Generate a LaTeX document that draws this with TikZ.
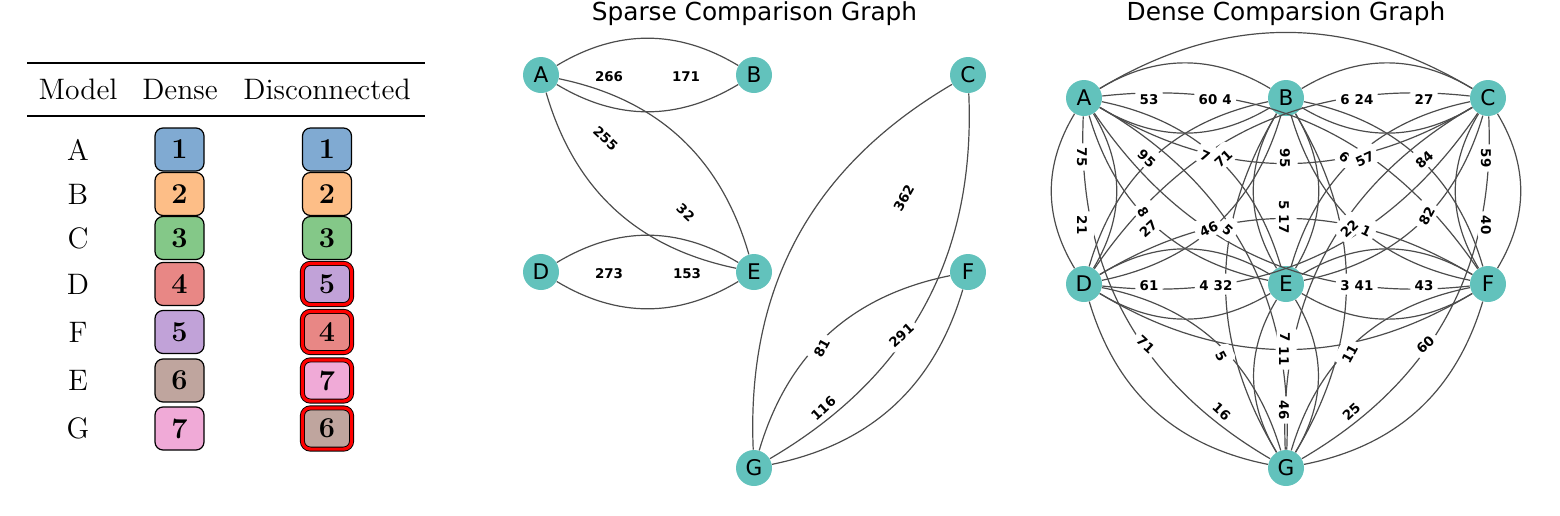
\documentclass[tikz,border=0pt]{standalone}
\usepackage{fontspec}
\newfontfamily\djv{DejaVu Sans}
\usetikzlibrary{calc}
\definecolor{tealn}{RGB}{98,194,188}
\definecolor{cone}{RGB}{128,170,210}
\definecolor{ctwo}{RGB}{253,190,135}
\definecolor{cthree}{RGB}{132,200,136}
\definecolor{cfour}{RGB}{232,135,133}
\definecolor{cfive}{RGB}{193,162,216}
\definecolor{csix}{RGB}{191,165,158}
\definecolor{cseven}{RGB}{240,170,215}
\begin{document}
\begin{tikzpicture}[x=0.5pt,y=-0.5pt,
  gnode/.style={circle,fill=tealn,minimum size=18pt,inner sep=0pt,font=\djv\fontsize{10.8}{12}\selectfont},
  lnk/.style={draw=black!70,line width=0.6pt},
  elab/.style={fill=white,inner xsep=2.2pt,inner ysep=1.3pt,text height=0.74em,text depth=0.05em,rounded corners=2pt,font=\djv\bfseries\fontsize{6.7}{7.5}\selectfont},
  ttl/.style={anchor=base,font=\djv\fontsize{12.4}{14}\selectfont},
  tbl/.style={font=\fontsize{14.8}{17}\selectfont},
  rk/.style={draw=black,line width=0.6pt,rounded corners=4pt,minimum width=24.5pt,minimum height=21.5pt,inner sep=0pt,font=\fontsize{14.4}{16}\selectfont\bfseries},
  rkr/.style={rk,double=red,double distance=1.6pt,line width=0.45pt,minimum width=24.6pt,minimum height=20.6pt},
  bl/.style={bend left=31}, br/.style={bend right=31}
]
\useasboundingbox (0,0) rectangle (1560,515);

% ---------------- table ----------------
\draw[line width=1pt] (27,63) -- (425,63);
\draw[line width=0.8pt] (27,116) -- (425,116);
\node[tbl,anchor=base] (hM) at (78,99) {Model};
\node[tbl,anchor=base] (hD) at (180,99) {Dense};
\node[tbl,anchor=base] (hC) at (327,99) {Disconnected};

\foreach \l/\y [count=\i] in {A/149.5,B/194,C/238,D/284,F/332,E/380.5,G/428.5}
  \node[tbl] (row\i) at (78,\y) {\l};

\node[rk,fill=cone]   (dn1) at (179.5,149.5) {1};
\node[rk,fill=ctwo]   (dn2) at (179.5,194) {2};
\node[rk,fill=cthree] (dn3) at (179.5,238) {3};
\node[rk,fill=cfour]  (dn4) at (179.5,284) {4};
\node[rk,fill=cfive]  (dn5) at (179.5,332) {5};
\node[rk,fill=csix]   (dn6) at (179.5,380.5) {6};
\node[rk,fill=cseven] (dn7) at (179.5,428.5) {7};

\node[rk,fill=cone]    (dc1) at (327,149.5) {1};
\node[rk,fill=ctwo]    (dc2) at (327,194) {2};
\node[rk,fill=cthree]  (dc3) at (327,238) {3};
\node[rkr,fill=cfive]  (dc4) at (327,284) {5};
\node[rkr,fill=cfour]  (dc5) at (327,332) {4};
\node[rkr,fill=cseven] (dc6) at (327,380.5) {7};
\node[rkr,fill=csix]   (dc7) at (327,428.5) {6};

% ---------------- sparse graph ----------------
\node[ttl] (st) at (754.5,20.5) {Sparse Comparison Graph};
\node[gnode] (sA) at (541,75) {A};
\node[gnode] (sB) at (754,75) {B};
\node[gnode] (sC) at (968,75) {C};
\node[gnode] (sD) at (541,272) {D};
\node[gnode] (sE) at (754,272) {E};
\node[gnode] (sF) at (968,272) {F};
\node[gnode] (sG) at (754,468) {G};
\foreach \u/\v in {A/B,A/E,D/E,C/G,F/G}{
  \draw[lnk] (s\u) to[bl] (s\v);
  \draw[lnk] (s\u) to[br] (s\v);
}
\node[elab] (sl1) at (609,75) {266};
\node[elab] (sl2) at (686,75) {171};
\node[elab,rotate=-42.8] (sl3) at (607,137) {255};
\node[elab,rotate=-42.8] (sl4) at (687,211) {32};
\node[elab] (sl5) at (609,272) {273};
\node[elab] (sl6) at (687,272) {153};
\node[elab,rotate=61.4] (sl7) at (902,197) {362};
\node[elab,rotate=61.4] (sl8) at (820,347) {81};
\node[elab,rotate=42.5] (sl9) at (900,334) {291};
\node[elab,rotate=42.5] (sl10) at (822,407) {116};

% ---------------- dense graph ----------------
\node[ttl] (dt) at (1286,20.5) {Dense Comparsion Graph};
\node[gnode] (dA) at (1084,98) {A};
\node[gnode] (dB) at (1286,98) {B};
\node[gnode] (dC) at (1488,98) {C};
\node[gnode] (dD) at (1084,284) {D};
\node[gnode] (dE) at (1286,284) {E};
\node[gnode] (dF) at (1488,284) {F};
\node[gnode] (dG) at (1286,468) {G};
\foreach \u/\v in {A/B,A/C,A/D,A/E,A/F,A/G,B/C,B/D,B/E,B/F,B/G,C/D,C/E,C/F,C/G,D/E,D/F,D/G,E/F,E/G,F/G}{
  \draw[lnk] (d\u) to[bl] (d\v);
  \draw[lnk] (d\u) to[br] (d\v);
}
% horizontal rows
\node[elab] (dl1) at (1149,98) {53};
\node[elab] (dl2) at (1208,98) {60};
\node[elab] (dl3) at (1227,98) {4};
\node[elab] (dl4) at (1345,98) {6};
\node[elab] (dl5) at (1364,98) {24};
\node[elab] (dl6) at (1424,98) {27};
\node[elab] (dl7) at (1149,284) {61};
\node[elab] (dl8) at (1204,284) {4};
\node[elab] (dl9) at (1223,284) {32};
\node[elab] (dl10) at (1345,284) {3};
\node[elab] (dl11) at (1364,284) {41};
\node[elab] (dl12) at (1424,284) {43};
% vertical
\node[elab,rotate=-90] (dl13) at (1084,157) {75};
\node[elab,rotate=-90] (dl14) at (1084,225) {21};
\node[elab,rotate=-90] (dl15) at (1287,158) {95};
\node[elab,rotate=-90] (dl16) at (1286,205) {5};
\node[elab,rotate=-90] (dl17) at (1286,224) {17};
\node[elab,rotate=-90] (dl18) at (1488,158) {59};
\node[elab,rotate=-90] (dl19) at (1488,225) {40};
\node[elab,rotate=-90] (dl20) at (1287,337) {7};
\node[elab,rotate=-90] (dl21) at (1286,356) {11};
\node[elab,rotate=-90] (dl22) at (1286,410) {46};
% diagonal
\node[elab,rotate=-42.6] (dl23) at (1148,157) {95};
\node[elab,rotate=-24.7] (dl24) at (1206,154) {7};
\node[elab,rotate=42.6]  (dl25) at (1222,157) {71};
\node[elab,rotate=-42.6] (dl26) at (1346,156) {6};
\node[elab,rotate=24.7]  (dl27) at (1364,157) {57};
\node[elab,rotate=42.6]  (dl28) at (1423,158) {84};
\node[elab,rotate=-61.4] (dl29) at (1145,211) {8};
\node[elab,rotate=42.6]  (dl30) at (1147,227) {27};
\node[elab,rotate=-42.6] (dl31) at (1229,229) {5};
\node[elab,rotate=24.7]  (dl32) at (1208,227) {46};
\node[elab,rotate=-24.7] (dl33) at (1367,229) {1};
\node[elab,rotate=42.6]  (dl34) at (1348,227) {22};
\node[elab,rotate=61.4]  (dl35) at (1425,215) {82};
\node[elab,rotate=-42.6] (dl36) at (1147,343) {71};
\node[elab,rotate=-61.4] (dl37) at (1223,355) {5};
\node[elab,rotate=61.4]  (dl38) at (1348,353) {11};
\node[elab,rotate=42.6]  (dl39) at (1424,343) {60};
\node[elab,rotate=-42.6] (dl40) at (1223,410) {16};
\node[elab,rotate=42.6]  (dl41) at (1350,410) {25};
\end{tikzpicture}
\end{document}
